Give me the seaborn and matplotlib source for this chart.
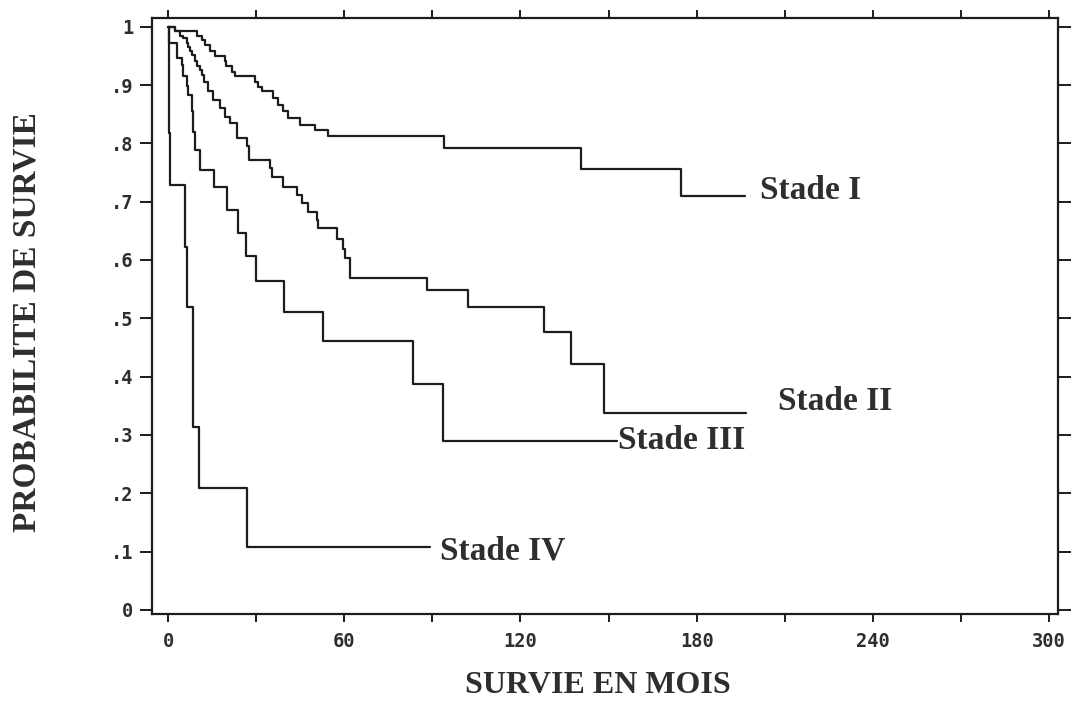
import numpy as np
import pandas as pd
import matplotlib
matplotlib.use("Agg")
import matplotlib.pyplot as plt
import seaborn as sns

# ---- data (Kaplan-Meier steps) ----
stages = ["Stade I", "Stade II", "Stade III", "Stade IV"]

t_stade1 = [0, 2.4, 9.8, 11.5, 12.6, 14.3, 16.0, 19.4, 19.9, 21.7, 22.8, 29.6,
            30.7, 31.9, 35.8, 37.5, 39.2, 41.0, 44.9, 50.0, 54.5, 94.0, 140.7, 174.7]
s_stade1 = [1.0, .992, .984, .978, .969, .958, .949, .941, .932, .923, .915, .905,
            .897, .889, .877, .866, .855, .844, .832, .823, .812, .792, .756, .710]
end_stade1 = 196.3

t_stade2 = [0, 2.4, 4.1, 5.0, 6.4, 6.9, 7.5, 8.1, 9.2, 9.8, 10.9, 11.5, 12.3,
            13.7, 15.4, 17.7, 19.4, 21.1, 23.4, 26.8, 27.5, 34.7, 35.3, 39.2,
            43.8, 45.5, 47.7, 50.6, 51.1, 57.6, 59.4, 60.2, 62.1, 88.3, 102.1,
            127.9, 137.3, 148.6]
s_stade2 = [1.0, .992, .984, .980, .972, .966, .958, .952, .941, .932, .926, .917, .906,
            .889, .875, .861, .846, .835, .809, .795, .772, .758, .743, .726,
            .712, .698, .683, .669, .655, .636, .619, .603, .569, .548, .520,
            .476, .422, .338]
end_stade2 = 196.8

t_stade3 = [0, 0.3, 2.9, 4.6, 5.2, 6.3, 6.9, 8.1, 8.6, 9.2, 10.9, 15.6, 20.2,
            23.9, 26.5, 29.9, 39.5, 52.7, 83.3, 93.5]
s_stade3 = [1.0, .972, .946, .935, .915, .898, .883, .855, .820, .789, .755, .726, .686,
            .646, .607, .564, .511, .461, .388, .290]
end_stade3 = 152.7

t_stade4 = [0, 0.3, 0.6, 5.8, 6.3, 8.6, 10.5, 26.8]
s_stade4 = [1.0, .818, .729, .623, .520, .314, .209, .107]
end_stade4 = 89.1

x_ticks = [0, 30, 60, 90, 120, 150, 180, 210, 240, 270, 300]
x_ticklabels = ["0", "", "60", "", "120", "", "180", "", "240", "", "300"]
y_ticks = [0, .1, .2, .3, .4, .5, .6, .7, .8, .9, 1.0]
y_ticklabels = ["0", ".1", ".2", ".3", ".4", ".5", ".6", ".7", ".8", ".9", "1"]

# label positions (data coords) next to each curve end
label_x = [201.6, 207.7, 153.2, 92.6]
label_y = [0.72, 0.357, 0.29, 0.101]

# ---- build long table ----
frames = []
for name, t, s, e in zip(stages,
                         [t_stade1, t_stade2, t_stade3, t_stade4],
                         [s_stade1, s_stade2, s_stade3, s_stade4],
                         [end_stade1, end_stade2, end_stade3, end_stade4]):
    frames.append(pd.DataFrame({"mois": list(t) + [e],
                                "survie": list(s) + [s[-1]],
                                "stade": name}))
df = pd.concat(frames, ignore_index=True)

sns.set_theme(style="white")
plt.rcParams["font.family"] = ["DejaVu Sans"]

ink = "#1c1c1c"
txt = "#2e2e2e"

fig = plt.figure(figsize=(10.73, 7.02), dpi=100)
ax = fig.add_axes([0.1421, 0.1254, 0.8439, 0.849])

sns.lineplot(data=df, x="mois", y="survie", hue="stade",
             palette={s: ink for s in stages}, estimator=None, sort=True,
             drawstyle="steps-post", linewidth=1.6, legend=False, ax=ax)

ax.set_xlim(-5.3, 303.0)
ax.set_ylim(-0.007, 1.015)

for sp in ax.spines.values():
    sp.set_visible(True)
    sp.set_color(ink)
    sp.set_linewidth(1.6)

ax.set_xticks(x_ticks)
ax.set_xticklabels(x_ticklabels)
ax.set_yticks(y_ticks)
ax.set_yticklabels(y_ticklabels)
ax.tick_params(axis="x", direction="out", length=6, width=1.4, color=ink,
               top=True, bottom=True, pad=7)
ax.tick_params(axis="y", direction="out", length=9, width=1.4, color=ink,
               left=True, right=True, pad=5)
for lab in ax.get_xticklabels() + ax.get_yticklabels():
    lab.set_family("DejaVu Sans Mono")
    lab.set_fontweight("bold")
    lab.set_fontsize(13.5)
    lab.set_color(txt)

ax.set_xlabel("SURVIE EN MOIS", family="Liberation Serif", fontweight="bold",
              fontsize=23, color=txt)
ax.set_ylabel("PROBABILITE DE SURVIE", family="Liberation Serif", fontweight="bold",
              fontsize=24, color=txt)
ax.xaxis.set_label_coords(0.492, -0.095)
ax.yaxis.set_label_coords(-0.121, 0.49)

for name, lx, ly in zip(stages, label_x, label_y):
    ax.text(lx, ly, name, family="Liberation Serif", fontweight="bold",
            fontsize=24, color=txt, ha="left", va="center")

ax.grid(False)
fig.savefig("out.png", dpi=100, facecolor="white")
